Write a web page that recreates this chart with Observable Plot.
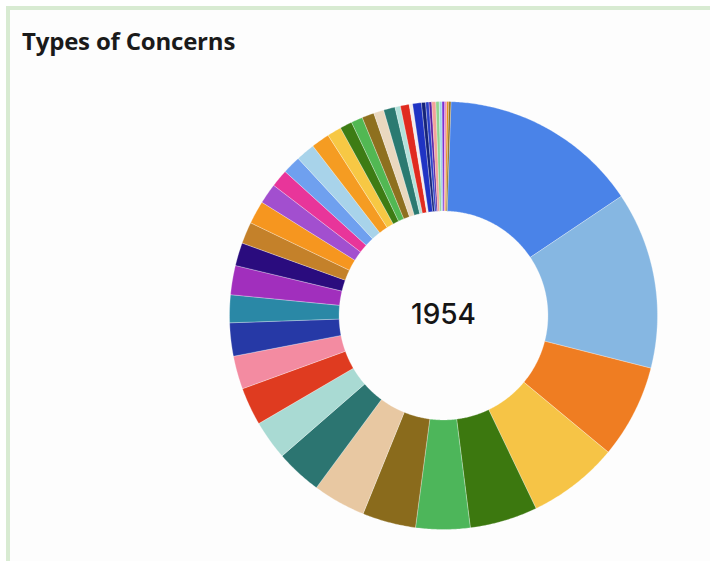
<!DOCTYPE html>
<html><head><meta charset="utf-8">
<script src="https://cdn.jsdelivr.net/npm/d3@7"></script>
<script src="https://cdn.jsdelivr.net/npm/@observablehq/plot@0.6"></script>
<style>
html,body{margin:0;padding:0;background:#fff;}
#wrap{position:relative;width:710px;height:561px;overflow:hidden;background:#fff;}
#frame{position:absolute;left:6px;top:6px;width:720px;height:570px;border-left:4px solid #d8ebd2;border-top:4px solid #d8ebd2;background:#fdfdfd;}
#title{position:absolute;left:22px;top:24px;font:bold 24px "Open Sans", sans-serif;letter-spacing:-0.2px;color:#1a1a1a;white-space:nowrap;}
#chart{position:absolute;left:0;top:0;}
</style></head><body>
<div id="wrap"><div id="frame"></div><div id="title">Types of Concerns</div><div id="chart"></div></div>
<script>
const titleText = "Types of Concerns";
const categories = Array.from({length: 43}, (_, i) => "Concern " + (i + 1));
const counts = [294,261,138,134,100,80,79,78,68,58,56,49,49,41,43,34,32,34,30,26,27,28,27,21,18,17,18,15,17,8,13,5,13,6,5,4,6,5,4,4,3,3,3];
const colors = ["#4a83e8","#86b7e2","#ef7d22","#f6c446","#3c780f","#4db65a","#8a6b1c","#e8c8a2","#2c7571","#a9dad3",
"#df3b20","#f38ba1","#2639a6","#2a88a6","#a12fbd","#2a0c7e","#c4812a","#f6961f","#a24fcf","#e8359a",
"#6fa0ef","#a8d3ea","#f59c22","#f7c844","#3d7c14","#52b853","#8e701f","#ead8bf","#2b7a71","#b3e2db",
"#e02b1f","#f2ecec","#1f33c4","#15237a","#2b40c8","#5b1fa0","#f2a39a","#8fd48f","#9fd7e6","#7a30d4",
"#f08ab3","#e58a12","#8a6b1c"];

const innerRatio = 0.488;
const startOffset = 2 * Math.PI / 180;
const total = d3.sum(counts);
const pts = [];
let acc = 0;
categories.forEach((cat, i) => {
  const a0 = startOffset + acc / total * 2 * Math.PI;
  acc += counts[i];
  const a1 = startOffset + acc / total * 2 * Math.PI;
  const n = Math.max(2, Math.ceil((a1 - a0) / (Math.PI / 360)));
  for (let k = 0; k <= n; k++) {
    const a = a0 + (a1 - a0) * k / n;
    pts.push({cat, x: Math.sin(a), y: Math.cos(a)});
  }
  for (let k = n; k >= 0; k--) {
    const a = a0 + (a1 - a0) * k / n;
    pts.push({cat, x: innerRatio * Math.sin(a), y: innerRatio * Math.cos(a)});
  }
  pts.push({cat, x: Math.sin(a0), y: Math.cos(a0)});
});

const chart = Plot.plot({
  width: 710,
  height: 561,
  margin: 0,
  style: {background: "transparent"},
  x: {domain: [-1, 1], range: [229, 657], axis: null},
  y: {domain: [-1, 1], range: [529, 101], axis: null},
  color: {domain: categories, range: colors},
  marks: [
    Plot.line(pts, {x: "x", y: "y", z: "cat", fill: "cat", stroke: "white", strokeWidth: 0.4, strokeOpacity: 0.7, curve: "linear"}),
    Plot.text([{x: 0, y: 0, label: String(total)}], {x: "x", y: "y", text: "label", fontSize: 28, fontWeight: 500, fontFamily: "Inter, sans-serif", fill: "#151515"})
  ]
});
document.getElementById("title").textContent = titleText;
document.getElementById("chart").appendChild(chart);
</script>
</body></html>
